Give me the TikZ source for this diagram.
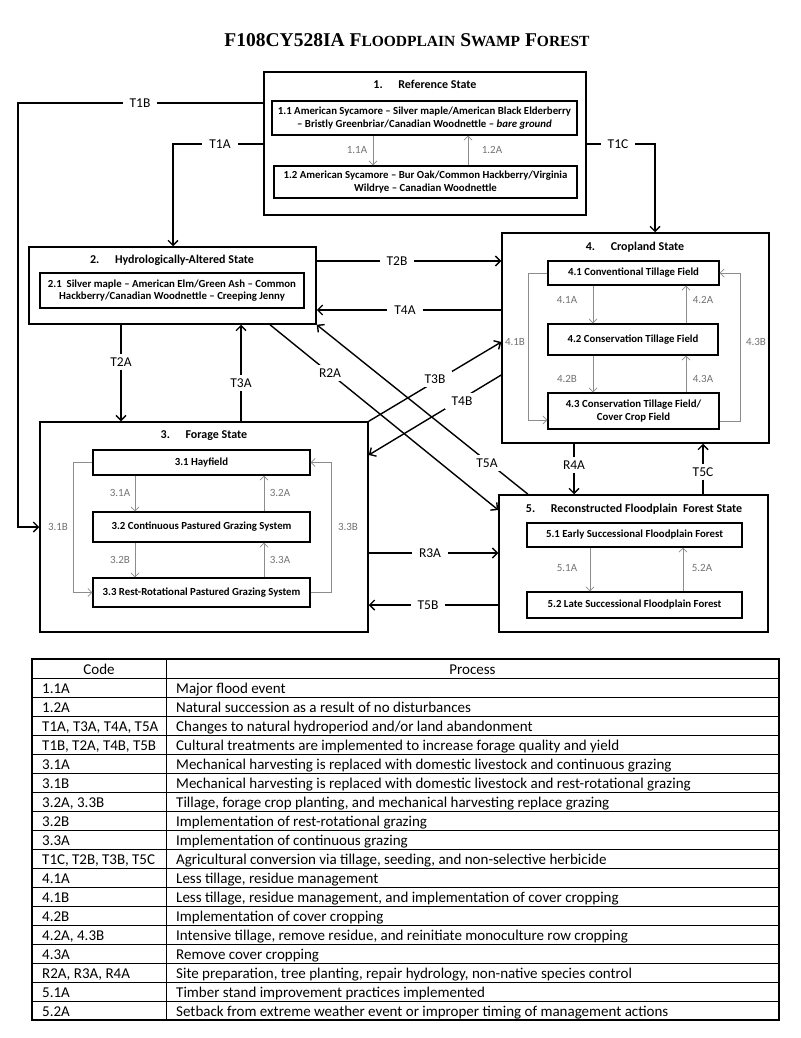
\documentclass[tikz,border=0pt]{standalone}
\usepackage{fontspec}
\setmainfont{Carlito}
\newfontfamily\titlefont{Liberation Serif}
\usetikzlibrary{arrows.meta}
\newcommand\fakesc[1]{{\fontsize{15.5}{15.5}\selectfont #1}}
\begin{document}
\begin{tikzpicture}[x=1pt,y=-1pt,
  outer/.style={draw, line width=1.5pt, inner sep=0pt},
  innerbox/.style={draw, line width=1.1pt, inner sep=0pt, align=center,
    font=\bfseries\fontsize{10.8}{12.6}\selectfont},
  stitle/.style={inner sep=0pt, font=\bfseries\fontsize{12}{13}\selectfont},
  conn/.style={line width=1.4pt, -{Straight Barb[length=5pt,width=10pt]}},
  lab/.style={fill=white, inner xsep=7pt, inner ysep=4pt, font=\fontsize{13.5}{13.5}\selectfont},
  iconn/.style={draw=black!45, line width=0.8pt, -{Straight Barb[length=4pt,width=8pt]}},
  ilab/.style={inner sep=1pt, text=black!55, font=\fontsize{11}{11}\selectfont},
  tcell/.style={inner sep=0pt, anchor=base west, font=\fontsize{15}{15}\selectfont},
  thead/.style={inner sep=0pt, anchor=base, font=\fontsize{15}{15}\selectfont}
]
\fill[white] (0,0) rectangle (800,1038);
\useasboundingbox (0,0) rectangle (800,1038);

% title
\node[inner sep=0pt] (title) at (407,40) {\titlefont\bfseries\fontsize{19.5}{19.5}\selectfont F108CY528IA F\fakesc{LOODPLAIN} S\fakesc{WAMP} F\fakesc{OREST}};

% ---- outer states
\node[outer, minimum width=322pt, minimum height=143pt] (b1) at (425,143.5) {};
\node[outer, minimum width=287pt, minimum height=77pt] (b2) at (172.5,285.5) {};
\node[outer, minimum width=328pt, minimum height=210pt] (b3) at (204,527) {};
\node[outer, minimum width=267pt, minimum height=210pt] (b4) at (635.5,338) {};
\node[outer, minimum width=269pt, minimum height=137pt] (b5) at (633.5,563.5) {};

% ---- state titles
\node[stitle] (t1) at (425,84) {1.\hspace{1.3em}Reference State};
\node[stitle] (t2) at (172,260) {2.\hspace{1.3em}Hydrologically-Altered State};
\node[stitle] (t3) at (204,436) {3.\hspace{1.3em}Forage State};
\node[stitle] (t4) at (635,247) {4.\hspace{1.3em}Cropland State};
\node[stitle] (t5) at (634,509) {5.\hspace{1.3em}Reconstructed Floodplain\ \ Forest State};

% ---- community phases
\node[innerbox, minimum width=305pt, minimum height=34pt] (b11) at (424.5,118) {1.1 American Sycamore -- Silver maple/American Black Elderberry\\ -- Bristly Greenbriar/Canadian Woodnettle -- \textit{bare ground}};
\node[innerbox, minimum width=303pt, minimum height=32pt] (b12) at (425.5,182) {1.2 American Sycamore -- Bur Oak/Common Hackberry/Virginia\\ Wildrye -- Canadian Woodnettle};
\node[innerbox, minimum width=264pt, minimum height=35pt] (b21) at (172,290.5) {2.1\ \ Silver maple -- American Elm/Green Ash -- Common\\ Hackberry/Canadian Woodnettle -- Creeping Jenny};
\node[innerbox, minimum width=217pt, minimum height=25pt] (b31) at (201.5,462.5) {3.1 Hayfield};
\node[innerbox, minimum width=217pt, minimum height=30pt] (b32) at (201.5,527) {3.2 Continuous Pastured Grazing System};
\node[innerbox, minimum width=217pt, minimum height=29pt] (b33) at (201.5,592.5) {3.3 Rest-Rotational Pastured Grazing System};
\node[innerbox, minimum width=171pt, minimum height=24pt] (b41) at (633.5,273) {4.1 Conventional Tillage Field};
\node[innerbox, minimum width=170pt, minimum height=31pt] (b42) at (633,339.5) {4.2 Conservation Tillage Field};
\node[innerbox, minimum width=171pt, minimum height=36pt] (b43) at (633.5,411) {4.3 Conservation Tillage Field/\\ Cover Crop Field};
\node[innerbox, minimum width=215pt, minimum height=24pt] (b51) at (634.5,535) {5.1 Early Successional Floodplain Forest};
\node[innerbox, minimum width=215pt, minimum height=26pt] (b52) at (634.5,605) {5.2 Late Successional Floodplain Forest};

% ---- inner transitions
\draw[iconn] (373,0 |- b11.south) -- (373,0 |- b12.north);
\draw[iconn] (468,0 |- b12.north) -- (468,0 |- b11.south);
\node[ilab] (l11a) at (357,150) {1.1A};
\node[ilab] (l12a) at (492,150) {1.2A};

\draw[iconn] (135,0 |- b31.south) -- (135,0 |- b32.north);
\draw[iconn] (264,0 |- b32.north) -- (264,0 |- b31.south);
\draw[iconn] (135,0 |- b32.south) -- (135,0 |- b33.north);
\draw[iconn] (264,0 |- b33.north) -- (264,0 |- b32.south);
\draw[iconn] (b31.west) -- (73,0 |- b31.west) -- (73,0 |- b33.west) -- (b33.west);
\draw[iconn] (b33.east) -- (331,0 |- b33.east) -- (331,0 |- b31.east) -- (b31.east);
\node[ilab] (l31a) at (120,493) {3.1A};
\node[ilab] (l32a) at (280,493) {3.2A};
\node[ilab] (l32b) at (120,560) {3.2B};
\node[ilab] (l33a) at (280,560) {3.3A};
\node[ilab] (l31b) at (58,527) {3.1B};
\node[ilab] (l33b) at (348,527) {3.3B};

\draw[iconn] (593,0 |- b41.south) -- (593,0 |- b42.north);
\draw[iconn] (686,0 |- b42.north) -- (686,0 |- b41.south);
\draw[iconn] (593,0 |- b42.south) -- (593,0 |- b43.north);
\draw[iconn] (686,0 |- b43.north) -- (686,0 |- b42.south);
\draw[iconn] (b41.west) -- (528,0 |- b41.west) -- (528,420) -- (b43.west |- 0,420);
\draw[iconn] (b43.east |- 0,421) -- (740,421) -- (740,0 |- b41.east) -- (b41.east);
\node[ilab] (l41a) at (567,300) {4.1A};
\node[ilab] (l42a) at (703,300) {4.2A};
\node[ilab] (l42b) at (567,379) {4.2B};
\node[ilab] (l43a) at (703,379) {4.3A};
\node[ilab] (l41b) at (515,342) {4.1B};
\node[ilab] (l43b) at (756,342) {4.3B};

\draw[iconn] (590,0 |- b51.south) -- (590,0 |- b52.north);
\draw[iconn] (683,0 |- b52.north) -- (683,0 |- b51.south);
\node[ilab] (l51a) at (567,568) {5.1A};
\node[ilab] (l52a) at (702,568) {5.2A};

% ---- state transitions
\draw[conn] (b1.west |- 0,103) -- (18,103) -- (18,527) -- (b3.west |- 0,527);
\draw[conn] (b1.west |- 0,144) -- (173,144) -- (173,0 |- b2.north);
\draw[conn] (b1.east |- 0,144) -- (655,144) -- (655,0 |- b4.north);
\draw[conn] (b2.east |- 0,261) -- (b4.west |- 0,261);
\draw[conn] (b4.west |- 0,310) -- (b2.east |- 0,310);
\draw[conn] (121,0 |- b2.south) -- (121,0 |- b3.north);
\draw[conn] (241,0 |- b3.north) -- (241,0 |- b2.south);
\draw[conn] (270,0 |- b2.south) -- (b5.west |- 0,510);
\draw[conn] (528,0 |- b5.north) -- (b2.south east);
\draw[conn] (b3.north east) -- (b4.west |- 0,342);
\draw[conn] (b4.west |- 0,375) -- (b3.east |- 0,455);
\draw[conn] (b3.east |- 0,553) -- (b5.west |- 0,553);
\draw[conn] (b5.west |- 0,605) -- (b3.east |- 0,605);
\draw[conn] (574,0 |- b4.south) -- (574,0 |- b5.north);
\draw[conn] (703,0 |- b5.north) -- (703,0 |- b4.south);

\node[lab] (lt1b) at (140,103) {T1B};
\node[lab] (lt1a) at (220,144) {T1A};
\node[lab] (lt1c) at (618,144) {T1C};
\node[lab] (lt2b) at (397,261) {T2B};
\node[lab] (lt4a) at (405,310) {T4A};
\node[lab] (lt2a) at (121,362) {T2A};
\node[lab] (lt3a) at (241,383) {T3A};
\node[lab] (lr2a) at (330,373) {R2A};
\node[lab] (lt5a) at (487,463) {T5A};
\node[lab] (lt3b) at (435,379) {T3B};
\node[lab] (lt4b) at (462,401) {T4B};
\node[lab] (lr3a) at (430,553) {R3A};
\node[lab] (lt5b) at (428,605) {T5B};
\node[lab] (lr4a) at (574,465) {R4A};
\node[lab] (lt5c) at (703,472) {T5C};

% ---- table
\draw[line width=1.1pt] (32,659) rectangle (779,1020);
\draw[line width=1pt] (166,659) -- (166,1020);
\foreach \k in {1,...,18} { \draw[line width=1pt] (32,659+19*\k) -- (779,659+19*\k); }
\node[thead] (hcode) at (99,674) {Code};
\node[thead] (hproc) at (472.5,674) {Process};

\node[tcell] (c1) at (42,693.5) {1.1A};
\node[tcell] (p1) at (176,693.5) {Major flood event};
\node[tcell] (c2) at (42,712.5) {1.2A};
\node[tcell] (p2) at (176,712.5) {Natural succession as a result of no disturbances};
\node[tcell] (c3) at (42,731.5) {T1A, T3A, T4A, T5A};
\node[tcell] (p3) at (176,731.5) {Changes to natural hydroperiod and/or land abandonment};
\node[tcell] (c4) at (42,750.5) {T1B, T2A, T4B, T5B};
\node[tcell] (p4) at (176,750.5) {Cultural treatments are implemented to increase forage quality and yield};
\node[tcell] (c5) at (42,769.5) {3.1A};
\node[tcell] (p5) at (176,769.5) {Mechanical harvesting is replaced with domestic livestock and continuous grazing};
\node[tcell] (c6) at (42,788.5) {3.1B};
\node[tcell] (p6) at (176,788.5) {Mechanical harvesting is replaced with domestic livestock and rest-rotational grazing};
\node[tcell] (c7) at (42,807.5) {3.2A, 3.3B};
\node[tcell] (p7) at (176,807.5) {Tillage, forage crop planting, and mechanical harvesting replace grazing};
\node[tcell] (c8) at (42,826.5) {3.2B};
\node[tcell] (p8) at (176,826.5) {Implementation of rest-rotational grazing};
\node[tcell] (c9) at (42,845.5) {3.3A};
\node[tcell] (p9) at (176,845.5) {Implementation of continuous grazing};
\node[tcell] (c10) at (42,864.5) {T1C, T2B, T3B, T5C};
\node[tcell] (p10) at (176,864.5) {Agricultural conversion via tillage, seeding, and non-selective herbicide};
\node[tcell] (c11) at (42,883.5) {4.1A};
\node[tcell] (p11) at (176,883.5) {Less tillage, residue management};
\node[tcell] (c12) at (42,902.5) {4.1B};
\node[tcell] (p12) at (176,902.5) {Less tillage, residue management, and implementation of cover cropping};
\node[tcell] (c13) at (42,921.5) {4.2B};
\node[tcell] (p13) at (176,921.5) {Implementation of cover cropping};
\node[tcell] (c14) at (42,940.5) {4.2A, 4.3B};
\node[tcell] (p14) at (176,940.5) {Intensive tillage, remove residue, and reinitiate monoculture row cropping};
\node[tcell] (c15) at (42,959.5) {4.3A};
\node[tcell] (p15) at (176,959.5) {Remove cover cropping};
\node[tcell] (c16) at (42,978.5) {R2A, R3A, R4A};
\node[tcell] (p16) at (176,978.5) {Site preparation, tree planting, repair hydrology, non-native species control};
\node[tcell] (c17) at (42,997.5) {5.1A};
\node[tcell] (p17) at (176,997.5) {Timber stand improvement practices implemented};
\node[tcell] (c18) at (42,1016.5) {5.2A};
\node[tcell] (p18) at (176,1016.5) {Setback from extreme weather event or improper timing of management actions};
\end{tikzpicture}
\end{document}
